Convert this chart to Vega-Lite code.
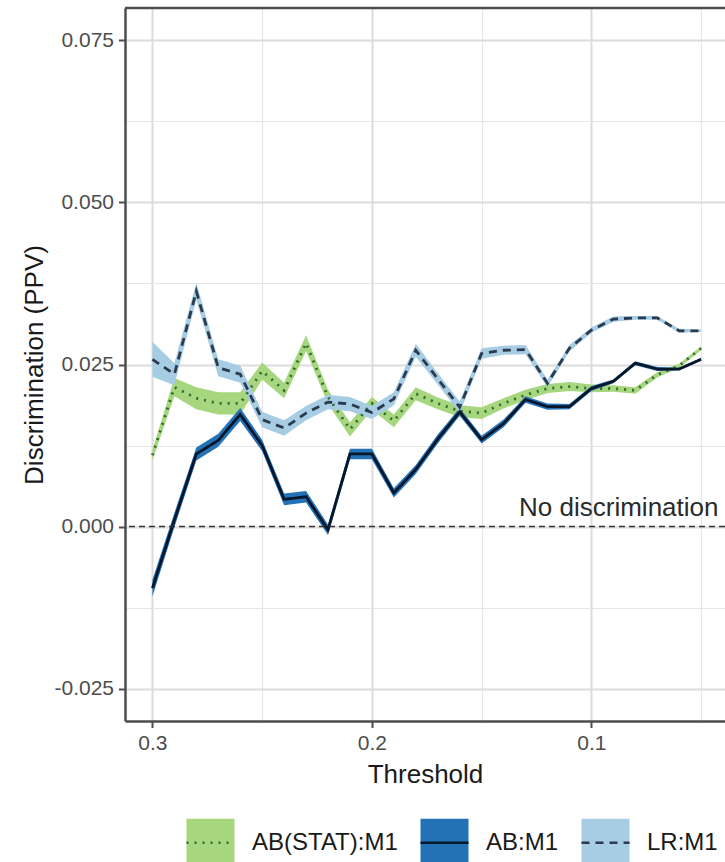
{
  "$schema": "https://vega.github.io/schema/vega-lite/v6.json",
  "width": 600,
  "height": 713,
  "autosize": {"type": "none"},
  "padding": {"left": 125, "top": 8, "right": 0, "bottom": 141},
  "background": "white",
  "config": {
    "font": "Liberation Sans",
    "view": {"stroke": null},
    "axis": {
      "domainColor": "#4d4d4d",
      "domainWidth": 2.5,
      "tickColor": "#4d4d4d",
      "tickWidth": 2,
      "tickSize": 6.5,
      "labelColor": "#4d4d4d",
      "labelFontSize": 21,
      "labelFont": "Liberation Sans",
      "titleFont": "Liberation Sans",
      "titleFontSize": 26,
      "titleFontWeight": "normal",
      "titleColor": "#1a1a1a",
      "labelOverlap": false,
      "labelFlush": false
    }
  },
  "data": {
    "values": [
      {"t": 0.30, "model": "AB(STAT):M1", "v": 0.0110, "lo": 0.0102, "hi": 0.0118},
      {"t": 0.29, "model": "AB(STAT):M1", "v": 0.0215, "lo": 0.0201, "hi": 0.0229},
      {"t": 0.28, "model": "AB(STAT):M1", "v": 0.0198, "lo": 0.0181, "hi": 0.0215},
      {"t": 0.27, "model": "AB(STAT):M1", "v": 0.0190, "lo": 0.0173, "hi": 0.0207},
      {"t": 0.26, "model": "AB(STAT):M1", "v": 0.0190, "lo": 0.0173, "hi": 0.0207},
      {"t": 0.25, "model": "AB(STAT):M1", "v": 0.0240, "lo": 0.0227, "hi": 0.0253},
      {"t": 0.24, "model": "AB(STAT):M1", "v": 0.0210, "lo": 0.0198, "hi": 0.0222},
      {"t": 0.23, "model": "AB(STAT):M1", "v": 0.0283, "lo": 0.0271, "hi": 0.0295},
      {"t": 0.22, "model": "AB(STAT):M1", "v": 0.0200, "lo": 0.0189, "hi": 0.0211},
      {"t": 0.21, "model": "AB(STAT):M1", "v": 0.0150, "lo": 0.0139, "hi": 0.0161},
      {"t": 0.20, "model": "AB(STAT):M1", "v": 0.0190, "lo": 0.0180, "hi": 0.0200},
      {"t": 0.19, "model": "AB(STAT):M1", "v": 0.0163, "lo": 0.0153, "hi": 0.0173},
      {"t": 0.18, "model": "AB(STAT):M1", "v": 0.0205, "lo": 0.0195, "hi": 0.0215},
      {"t": 0.17, "model": "AB(STAT):M1", "v": 0.0190, "lo": 0.0181, "hi": 0.0199},
      {"t": 0.16, "model": "AB(STAT):M1", "v": 0.0178, "lo": 0.0169, "hi": 0.0187},
      {"t": 0.15, "model": "AB(STAT):M1", "v": 0.0175, "lo": 0.0166, "hi": 0.0184},
      {"t": 0.14, "model": "AB(STAT):M1", "v": 0.0190, "lo": 0.0182, "hi": 0.0198},
      {"t": 0.13, "model": "AB(STAT):M1", "v": 0.0203, "lo": 0.0195, "hi": 0.0211},
      {"t": 0.12, "model": "AB(STAT):M1", "v": 0.0213, "lo": 0.0206, "hi": 0.0220},
      {"t": 0.11, "model": "AB(STAT):M1", "v": 0.0216, "lo": 0.0209, "hi": 0.0223},
      {"t": 0.10, "model": "AB(STAT):M1", "v": 0.0213, "lo": 0.0207, "hi": 0.0219},
      {"t": 0.09, "model": "AB(STAT):M1", "v": 0.0213, "lo": 0.0208, "hi": 0.0218},
      {"t": 0.08, "model": "AB(STAT):M1", "v": 0.0210, "lo": 0.0205, "hi": 0.0215},
      {"t": 0.07, "model": "AB(STAT):M1", "v": 0.0234, "lo": 0.0230, "hi": 0.0238},
      {"t": 0.06, "model": "AB(STAT):M1", "v": 0.0248, "lo": 0.0245, "hi": 0.0251},
      {"t": 0.05, "model": "AB(STAT):M1", "v": 0.0275, "lo": 0.0272, "hi": 0.0278},

      {"t": 0.30, "model": "AB:M1", "v": -0.0095, "lo": -0.0108, "hi": -0.0082},
      {"t": 0.29, "model": "AB:M1", "v": 0.0010, "lo": -0.0001, "hi": 0.0021},
      {"t": 0.28, "model": "AB:M1", "v": 0.0112, "lo": 0.0102, "hi": 0.0122},
      {"t": 0.27, "model": "AB:M1", "v": 0.0133, "lo": 0.0123, "hi": 0.0143},
      {"t": 0.26, "model": "AB:M1", "v": 0.0173, "lo": 0.0163, "hi": 0.0183},
      {"t": 0.25, "model": "AB:M1", "v": 0.0125, "lo": 0.0116, "hi": 0.0134},
      {"t": 0.24, "model": "AB:M1", "v": 0.0042, "lo": 0.0033, "hi": 0.0051},
      {"t": 0.23, "model": "AB:M1", "v": 0.0046, "lo": 0.0037, "hi": 0.0055},
      {"t": 0.22, "model": "AB:M1", "v": -0.0005, "lo": -0.0013, "hi": 0.0003},
      {"t": 0.21, "model": "AB:M1", "v": 0.0112, "lo": 0.0104, "hi": 0.0120},
      {"t": 0.20, "model": "AB:M1", "v": 0.0112, "lo": 0.0104, "hi": 0.0120},
      {"t": 0.19, "model": "AB:M1", "v": 0.0052, "lo": 0.0045, "hi": 0.0059},
      {"t": 0.18, "model": "AB:M1", "v": 0.0088, "lo": 0.0081, "hi": 0.0095},
      {"t": 0.17, "model": "AB:M1", "v": 0.0135, "lo": 0.0128, "hi": 0.0142},
      {"t": 0.16, "model": "AB:M1", "v": 0.0177, "lo": 0.0171, "hi": 0.0183},
      {"t": 0.15, "model": "AB:M1", "v": 0.0134, "lo": 0.0128, "hi": 0.0140},
      {"t": 0.14, "model": "AB:M1", "v": 0.0159, "lo": 0.0153, "hi": 0.0165},
      {"t": 0.13, "model": "AB:M1", "v": 0.0196, "lo": 0.0191, "hi": 0.0201},
      {"t": 0.12, "model": "AB:M1", "v": 0.0185, "lo": 0.0180, "hi": 0.0190},
      {"t": 0.11, "model": "AB:M1", "v": 0.0185, "lo": 0.0181, "hi": 0.0189},
      {"t": 0.10, "model": "AB:M1", "v": 0.0213, "lo": 0.0209, "hi": 0.0217},
      {"t": 0.09, "model": "AB:M1", "v": 0.0224, "lo": 0.0221, "hi": 0.0227},
      {"t": 0.08, "model": "AB:M1", "v": 0.0252, "lo": 0.0249, "hi": 0.0255},
      {"t": 0.07, "model": "AB:M1", "v": 0.0243, "lo": 0.0240, "hi": 0.0246},
      {"t": 0.06, "model": "AB:M1", "v": 0.0243, "lo": 0.0241, "hi": 0.0245},
      {"t": 0.05, "model": "AB:M1", "v": 0.0258, "lo": 0.0256, "hi": 0.0260},

      {"t": 0.30, "model": "LR:M1", "v": 0.0258, "lo": 0.0231, "hi": 0.0285},
      {"t": 0.29, "model": "LR:M1", "v": 0.0235, "lo": 0.0218, "hi": 0.0252},
      {"t": 0.28, "model": "LR:M1", "v": 0.0363, "lo": 0.0350, "hi": 0.0376},
      {"t": 0.27, "model": "LR:M1", "v": 0.0245, "lo": 0.0232, "hi": 0.0258},
      {"t": 0.26, "model": "LR:M1", "v": 0.0235, "lo": 0.0222, "hi": 0.0248},
      {"t": 0.25, "model": "LR:M1", "v": 0.0165, "lo": 0.0153, "hi": 0.0177},
      {"t": 0.24, "model": "LR:M1", "v": 0.0152, "lo": 0.0140, "hi": 0.0164},
      {"t": 0.23, "model": "LR:M1", "v": 0.0175, "lo": 0.0164, "hi": 0.0186},
      {"t": 0.22, "model": "LR:M1", "v": 0.0192, "lo": 0.0181, "hi": 0.0203},
      {"t": 0.21, "model": "LR:M1", "v": 0.0189, "lo": 0.0178, "hi": 0.0200},
      {"t": 0.20, "model": "LR:M1", "v": 0.0176, "lo": 0.0166, "hi": 0.0186},
      {"t": 0.19, "model": "LR:M1", "v": 0.0197, "lo": 0.0187, "hi": 0.0207},
      {"t": 0.18, "model": "LR:M1", "v": 0.0272, "lo": 0.0262, "hi": 0.0282},
      {"t": 0.17, "model": "LR:M1", "v": 0.0228, "lo": 0.0219, "hi": 0.0237},
      {"t": 0.16, "model": "LR:M1", "v": 0.0184, "lo": 0.0175, "hi": 0.0193},
      {"t": 0.15, "model": "LR:M1", "v": 0.0267, "lo": 0.0259, "hi": 0.0275},
      {"t": 0.14, "model": "LR:M1", "v": 0.0272, "lo": 0.0265, "hi": 0.0279},
      {"t": 0.13, "model": "LR:M1", "v": 0.0273, "lo": 0.0266, "hi": 0.0280},
      {"t": 0.12, "model": "LR:M1", "v": 0.0221, "lo": 0.0215, "hi": 0.0227},
      {"t": 0.11, "model": "LR:M1", "v": 0.0275, "lo": 0.0270, "hi": 0.0280},
      {"t": 0.10, "model": "LR:M1", "v": 0.0303, "lo": 0.0299, "hi": 0.0307},
      {"t": 0.09, "model": "LR:M1", "v": 0.0320, "lo": 0.0316, "hi": 0.0324},
      {"t": 0.08, "model": "LR:M1", "v": 0.0322, "lo": 0.0319, "hi": 0.0325},
      {"t": 0.07, "model": "LR:M1", "v": 0.0322, "lo": 0.0319, "hi": 0.0325},
      {"t": 0.06, "model": "LR:M1", "v": 0.0302, "lo": 0.0299, "hi": 0.0305},
      {"t": 0.05, "model": "LR:M1", "v": 0.0302, "lo": 0.0300, "hi": 0.0304}
    ]
  },
  "layer": [
    {
      "mark": {"type": "area", "opacity": 1},
      "encoding": {
        "x": {
          "field": "t",
          "type": "quantitative",
          "scale": {"domain": [0.0391, 0.3125], "reverse": true, "nice": false, "zero": false},
          "axis": {
            "title": "Threshold",
            "values": [0.3, 0.25, 0.2, 0.15, 0.1, 0.05],
            "labelExpr": "abs(datum.value*10 - round(datum.value*10)) < 0.000001 ? format(datum.value, '.1f') : ''",
            "tickOpacity": {"condition": {"test": "abs(datum.value*10 - round(datum.value*10)) < 0.000001", "value": 1}, "value": 0},
            "gridColor": {"condition": {"test": "abs(datum.value*10 - round(datum.value*10)) < 0.000001", "value": "#dcdcdc"}, "value": "#e6e6e6"},
            "gridWidth": {"condition": {"test": "abs(datum.value*10 - round(datum.value*10)) < 0.000001", "value": 2}, "value": 1.2},
            "labelPadding": 5,
            "titlePadding": 8
          }
        },
        "y": {
          "field": "lo",
          "type": "quantitative",
          "scale": {"domain": [-0.03, 0.08], "nice": false, "zero": false},
          "axis": {
            "title": "Discrimination (PPV)",
            "values": [-0.025, -0.0125, 0, 0.0125, 0.025, 0.0375, 0.05, 0.0625, 0.075],
            "labelExpr": "abs(datum.value*40 - round(datum.value*40)) < 0.000001 ? replace(format(datum.value, '.3f'), '\u2212', '-') : ''",
            "tickOpacity": {"condition": {"test": "abs(datum.value*40 - round(datum.value*40)) < 0.000001", "value": 1}, "value": 0},
            "gridColor": {"condition": {"test": "abs(datum.value*40 - round(datum.value*40)) < 0.000001", "value": "#dcdcdc"}, "value": "#e6e6e6"},
            "gridWidth": {"condition": {"test": "abs(datum.value*40 - round(datum.value*40)) < 0.000001", "value": 2}, "value": 1.2},
            "labelPadding": 5,
            "titlePadding": 6
          }
        },
        "y2": {"field": "hi"},
        "fill": {
          "field": "model",
          "type": "nominal",
          "scale": {"domain": ["AB(STAT):M1", "AB:M1", "LR:M1"], "range": ["#a6d67e", "#2372b6", "#a6cde4"]},
          "legend": {
            "title": null,
            "orient": "none",
            "legendX": 60,
            "legendY": 809,
            "direction": "horizontal",
            "symbolType": "square",
            "symbolSize": 2304,
            "symbolStrokeWidth": 2.5,
            "symbolStrokeColor": "transparent",
            "symbolOpacity": 1,
            "labelFontSize": 24,
            "labelColor": "#1a1a1a",
            "labelOffset": 16,
            "columnPadding": 17,
            "padding": 0,
            "offset": 0
          }
        }
      }
    },
    {
      "mark": {"type": "line", "strokeWidth": 2.8},
      "encoding": {
        "x": {"field": "t", "type": "quantitative"},
        "y": {"field": "v", "type": "quantitative"},
        "stroke": {
          "field": "model",
          "type": "nominal",
          "scale": {"range": ["#336b2e", "#08162b", "#2b3a4e"]},
          "legend": {
            "title": null,
            "orient": "none",
            "legendX": 60,
            "legendY": 809,
            "direction": "horizontal",
            "symbolType": "stroke",
            "symbolSize": 2304,
            "symbolStrokeWidth": 2.5,
            "symbolFillColor": "transparent",
            "labelFontSize": 24,
            "labelOpacity": 0,
            "labelOffset": 16,
            "columnPadding": 17,
            "padding": 0,
            "offset": 0
          }
        },
        "strokeDash": {
          "field": "model",
          "type": "nominal",
          "scale": {"range": [[2, 6], [1, 0], [8, 6]]},
          "legend": {
            "title": null,
            "orient": "none",
            "legendX": 60,
            "legendY": 809,
            "direction": "horizontal",
            "symbolType": "stroke",
            "symbolSize": 2304,
            "symbolStrokeWidth": 2.5,
            "symbolFillColor": "transparent",
            "labelFontSize": 24,
            "labelOpacity": 0,
            "labelOffset": 16,
            "columnPadding": 17,
            "padding": 0,
            "offset": 0
          }
        }
      }
    },
    {
      "data": {"values": [{}]},
      "mark": {"type": "rule", "strokeDash": [6, 4], "color": "#333333", "strokeWidth": 1.6},
      "encoding": {"y": {"datum": 0}}
    },
    {
      "data": {"values": [{}]},
      "mark": {"type": "text", "fontSize": 26, "color": "#2a2a2a", "align": "center", "baseline": "alphabetic", "font": "Liberation Sans"},
      "encoding": {"x": {"datum": 0.0875}, "y": {"datum": 0.0017}, "text": {"value": "No discrimination"}}
    },
    {
      "data": {"values": [{}]},
      "mark": {"type": "rule", "color": "#4d4d4d", "strokeWidth": 2.5},
      "encoding": {"y": {"datum": 0.08}}
    }
  ]
}
